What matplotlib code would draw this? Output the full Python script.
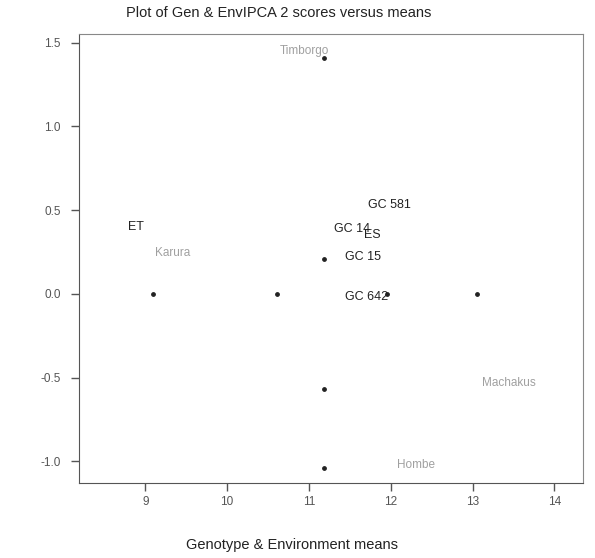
import matplotlib.pyplot as plt

# puntos (medias vs puntajes IPCA 2)
medias = [9.10, 10.61, 11.18, 11.18, 11.96, 13.05, 11.18, 11.18]
ipca2 = [0.0, 0.0, 1.41, 0.21, 0.0, 0.0, -0.57, -1.04]

# etiquetas de ambientes (gris claro)
amb_nombres = ['Timborgo', 'Karura', 'Machakus', 'Hombe']
amb_x = [10.95, 9.33, 13.44, 12.31]
amb_y = [1.45, 0.245, -0.53, -1.02]

# etiquetas de genotipos (negro); GC 14 y ES se solapan como en el original
gen_nombres = ['ET', 'GC 581', 'GC 14', 'ES', 'GC 15', 'GC 642']
gen_x = [8.88, 11.99, 11.53, 11.78, 11.66, 11.70]
gen_y = [0.40, 0.53, 0.39, 0.35, 0.22, -0.02]

plt.rcParams['font.family'] = 'Liberation Sans'

fig = plt.figure(figsize=(5.95, 5.58), dpi=100)
ax = fig.add_axes([79/595, 1-483/558, (583-79)/595, (483-34)/558])

ax.scatter(medias, ipca2, s=6, color='#222222', zorder=3)

for n, x, y in zip(amb_nombres, amb_x, amb_y):
    ax.text(x, y, n, ha='center', va='center', fontsize=8.5, color='#a0a0a0')

for n, x, y in zip(gen_nombres, gen_x, gen_y):
    ax.text(x, y, n, ha='center', va='center', fontsize=9, color='#222222')

ax.set_xlim(8.19, 14.35)
ax.set_ylim(-1.13, 1.552)
ax.set_xticks([9, 10, 11, 12, 13, 14])
ax.set_yticks([-1.0, -0.5, 0.0, 0.5, 1.0, 1.5])
ax.set_yticklabels(['-1.0', '-0.5', '0.0', '0.5', '1.0', '1.5'])
ax.tick_params(labelsize=8.5, colors='#555555', length=6, width=1, labelcolor='#555555')
ax.tick_params(axis='y', pad=7)
for lado in ['left', 'bottom']:
    ax.spines[lado].set_color('#555555')
for lado in ['top', 'right']:
    ax.spines[lado].set_color('#888888')

fig.text(279/595, 1-13/558, 'Plot of Gen & EnvIPCA 2 scores versus means',
         ha='center', va='center', fontsize=10.5, color='#222222')
fig.text(292/595, 1-545/558, 'Genotype & Environment means',
         ha='center', va='center', fontsize=10.5, color='#222222')

fig.savefig('out.png', dpi=100)
